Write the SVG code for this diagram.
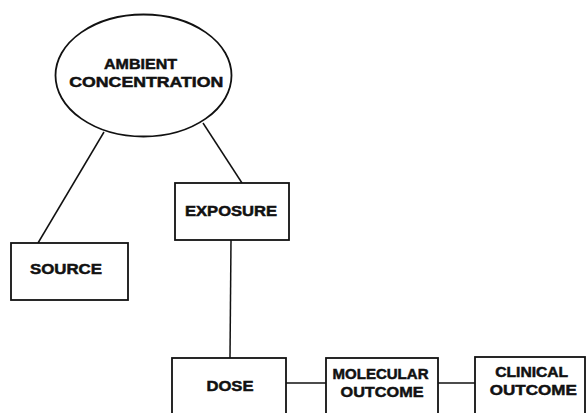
<svg xmlns="http://www.w3.org/2000/svg" width="587" height="413" viewBox="0 0 587 413">
<style>
.n{fill:#fff;stroke:#111;stroke-width:1.8}
.c{stroke:#111;stroke-width:1.5;fill:none}
text{font-family:"Liberation Sans",Arial,sans-serif;font-weight:bold;font-size:15px;fill:#111;stroke:#111;stroke-width:0.5;text-anchor:middle}
</style>
<rect width="587" height="413" fill="#fff"/>
<g id="connectors">
<line class="c" x1="104" y1="132" x2="38" y2="243"/>
<line class="c" x1="203" y1="123" x2="242" y2="183"/>
<line class="c" x1="231" y1="240" x2="230" y2="358"/>
<line class="c" x1="286" y1="383" x2="326" y2="383"/>
<line class="c" x1="438" y1="383" x2="475" y2="383"/>
</g>
<g id="ambient">
<ellipse class="n" cx="143.5" cy="75.5" rx="88" ry="61"/>
<text x="140.5" y="68.5" textLength="73" lengthAdjust="spacingAndGlyphs">AMBIENT</text>
<text x="146.3" y="86.5" textLength="154" lengthAdjust="spacingAndGlyphs">CONCENTRATION</text>
</g>
<g id="exposure">
<rect class="n" x="175" y="183" width="114" height="57"/>
<text x="231" y="215.5" textLength="92" lengthAdjust="spacingAndGlyphs">EXPOSURE</text>
</g>
<g id="source">
<rect class="n" x="11" y="243" width="117" height="57"/>
<text x="66" y="274" textLength="72" lengthAdjust="spacingAndGlyphs">SOURCE</text>
</g>
<g id="dose">
<rect class="n" x="172" y="358" width="114" height="70"/>
<text x="230" y="390.5" textLength="47" lengthAdjust="spacingAndGlyphs">DOSE</text>
</g>
<g id="molecular">
<rect class="n" x="326" y="358" width="112" height="70"/>
<text x="380.5" y="378.5" textLength="96" lengthAdjust="spacingAndGlyphs">MOLECULAR</text>
<text x="382" y="396.5" textLength="83" lengthAdjust="spacingAndGlyphs">OUTCOME</text>
</g>
<g id="clinical">
<rect class="n" x="475" y="357" width="110" height="70"/>
<text x="531.7" y="376.5" textLength="73" lengthAdjust="spacingAndGlyphs">CLINICAL</text>
<text x="533.3" y="395" textLength="87" lengthAdjust="spacingAndGlyphs">OUTCOME</text>
</g>
</svg>
